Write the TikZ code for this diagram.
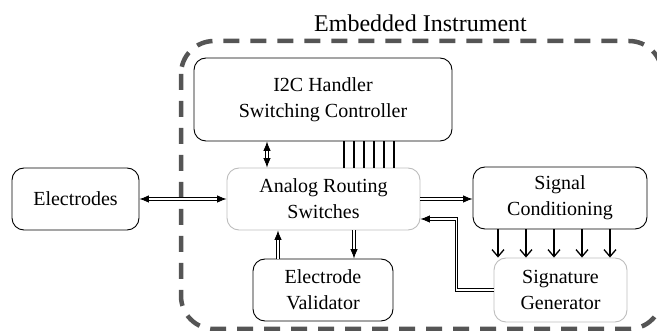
\documentclass[tikz,border=0pt]{standalone}
\usepackage{fontspec}
\setmainfont{Liberation Serif}
\newfontfamily\boxface{Liberation Serif}
\usepackage{tikz}
\usetikzlibrary{arrows.meta,calc,positioning}
\definecolor{framegray}{HTML}{555555}
\definecolor{softgray}{HTML}{BDBDBD}

\tikzset{
  blk/.style={draw,rounded corners=12pt,line width=0.9pt,align=center,inner sep=0pt,
    font=\boxface\fontsize{20}{26}\selectfont},
  softblk/.style={blk,draw=softgray},
  dbl/.style={double,double distance=1.6pt,line width=0.8pt},
  bus/.style={line width=1.5pt},
  sigarrow/.style={line width=1.3pt,-{Straight Barb[length=7pt,width=12pt]}}
}

\begin{document}
\begin{tikzpicture}[x=1pt,y=-1pt,>={Latex[length=9.5pt,width=7.5pt]}]
\useasboundingbox (0,0) rectangle (657,331);
% boundary of the instrument
\draw[framegray,line width=4.5pt,dash pattern=on 16pt off 11pt,rounded corners=33pt]
  (181,41) rectangle (662,329);
\node[anchor=base,font=\rmfamily\fontsize{24}{28}\selectfont] (title) at (420.5,32) {Embedded Instrument};

% blocks
\node[blk,minimum width=127pt,minimum height=62pt] (elec) at (75.5,199) {Electrodes};
\node[blk,minimum width=258pt,minimum height=83pt] (i2c) at (323,99.5) {I2C Handler\\Switching Controller};
\node[softblk,minimum width=193pt,minimum height=62pt] (ars) at (323.5,199) {Analog Routing\\Switches};
\node[blk,minimum width=140pt,minimum height=62pt] (val) at (323,290) {Electrode\\Validator};
\node[blk,minimum width=174pt,minimum height=62pt] (cond) at (560,198) {Signal\\Conditioning};
\node[softblk,minimum width=133pt,minimum height=64pt] (sig) at (560.5,290) {Signature\\Generator};

% connections
\draw[dbl,<->] (elec.east) -- (ars.west);
\draw[dbl,<->] (267,0 |- i2c.south) -- (267,0 |- ars.north);
\foreach \x in {344,354,...,394}
  \draw[bus] (\x,0 |- i2c.south) -- (\x,0 |- ars.north);
\draw[dbl,->] (ars.east) -- (ars.east -| cond.west);
\foreach \x in {498,526,...,610}
  \draw[sigarrow] (\x,0 |- cond.south) -- (\x,0 |- sig.north);
\draw[dbl,->] (sig.west) -- ++(-37,0) |- ([yshift=-20pt]ars.east);
\draw[dbl,->] (278,0 |- val.north) -- (278,0 |- ars.south);
\draw[dbl,->] (354,0 |- ars.south) -- (354,0 |- val.north);
\end{tikzpicture}
\end{document}
